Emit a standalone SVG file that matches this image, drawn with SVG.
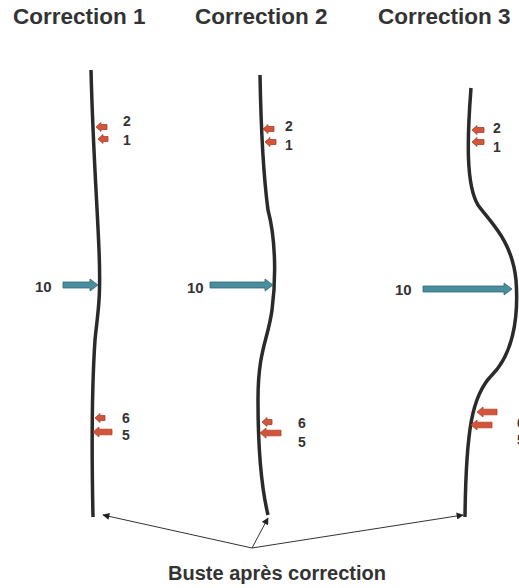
<svg xmlns="http://www.w3.org/2000/svg" width="519" height="588" viewBox="0 0 519 588">
<defs>
<marker id="ah" viewBox="0 0 10 10" refX="9" refY="5" markerWidth="9" markerHeight="7" markerUnits="userSpaceOnUse" orient="auto">
<path d="M0,0 L10,5 L0,10 Z" fill="#222"/>
</marker>
</defs>
<style>
.title{font-family:"Liberation Sans",Arial,sans-serif;font-weight:bold;font-size:22.5px;fill:#333}
.num{font-family:"Liberation Sans",Arial,sans-serif;font-weight:bold;font-size:14px;fill:#333}
.big{font-family:"Liberation Sans",Arial,sans-serif;font-weight:bold;font-size:15px;fill:#333}
.cap{font-family:"Liberation Sans",Arial,sans-serif;font-weight:bold;font-size:20px;fill:#333}
.bust{fill:none;stroke:#2a2a2a;stroke-width:3.5;stroke-linecap:butt}
.red{fill:#d2553a;stroke:#b0402a;stroke-width:0.8}
.teal{fill:#4a8d9c;stroke:#2f6878;stroke-width:0.8}
.conn{fill:none;stroke:#333;stroke-width:1}
</style>
<rect width="519" height="588" fill="#fff"/>

<g id="correction1">
<text class="title" x="13" y="24">Correction 1</text>
<path class="bust" d="M91,70 C93,150 97,200 99,250 C101,300 98,310 95,340 C91,400 92,470 93,517"/>
<path class="red" transform="translate(96,127)" d="M0,0 L5,-4.5 L5,-2.5 L11,-2.5 L11,2.5 L5,2.5 L5,4.5 Z"/>
<path class="red" transform="translate(98,139)" d="M0,0 L5,-4.5 L5,-2.5 L10,-2.5 L10,2.5 L5,2.5 L5,4.5 Z"/>
<path class="red" transform="translate(95,418)" d="M0,0 L5,-4.5 L5,-2.5 L10,-2.5 L10,2.5 L5,2.5 L5,4.5 Z"/>
<path class="red" transform="translate(93,432)" d="M0,0 L6,-5 L6,-2.8 L19,-2.8 L19,2.8 L6,2.8 L6,5 Z"/>
<path class="teal" transform="translate(98,285)" d="M0,0 L-8,-6 L-8,-3 L-35,-3 L-35,3 L-8,3 L-8,6 Z"/>
<text class="num" x="123" y="126">2</text>
<text class="num" x="123" y="145">1</text>
<text class="num" x="122" y="423">6</text>
<text class="num" x="122" y="440">5</text>
<text class="big" x="35" y="292">10</text>
</g>

<g id="correction2">
<text class="title" x="195" y="24">Correction 2</text>
<path class="bust" d="M260,75 C261,130 264,180 268,210 C276,240 276,280 272,310 C268,340 258,350 258,400 C258,450 262,490 268,515"/>
<path class="red" transform="translate(263,129)" d="M0,0 L5,-4.5 L5,-2.5 L11,-2.5 L11,2.5 L5,2.5 L5,4.5 Z"/>
<path class="red" transform="translate(265,142)" d="M0,0 L5,-4.5 L5,-2.5 L11,-2.5 L11,2.5 L5,2.5 L5,4.5 Z"/>
<path class="red" transform="translate(262,422)" d="M0,0 L5,-4.5 L5,-2.5 L10,-2.5 L10,2.5 L5,2.5 L5,4.5 Z"/>
<path class="red" transform="translate(260,433)" d="M0,0 L6,-5 L6,-2.8 L21,-2.8 L21,2.8 L6,2.8 L6,5 Z"/>
<path class="teal" transform="translate(273,285)" d="M0,0 L-8,-6 L-8,-3 L-63,-3 L-63,3 L-8,3 L-8,6 Z"/>
<text class="num" x="285" y="131">2</text>
<text class="num" x="285" y="150">1</text>
<text class="num" x="298" y="428">6</text>
<text class="num" x="298" y="447">5</text>
<text class="big" x="187" y="293">10</text>
</g>

<g id="correction3">
<text class="title" x="378" y="24">Correction 3</text>
<path class="bust" d="M471,88 C467,140 466,185 478,205 C490,222 512,240 516,280 C519,320 512,355 492,375 C472,395 466,430 465,517"/>
<path class="red" transform="translate(472,130)" d="M0,0 L5,-4.5 L5,-2.5 L12,-2.5 L12,2.5 L5,2.5 L5,4.5 Z"/>
<path class="red" transform="translate(472,142)" d="M0,0 L5,-4.5 L5,-2.5 L12,-2.5 L12,2.5 L5,2.5 L5,4.5 Z"/>
<path class="red" transform="translate(477,412)" d="M0,0 L6,-5 L6,-2.8 L20,-2.8 L20,2.8 L6,2.8 L6,5 Z"/>
<path class="red" transform="translate(471,425)" d="M0,0 L6,-5 L6,-2.8 L21,-2.8 L21,2.8 L6,2.8 L6,5 Z"/>
<path class="teal" transform="translate(512,289)" d="M0,0 L-8,-6 L-8,-3 L-89,-3 L-89,3 L-8,3 L-8,6 Z"/>
<text class="num" x="493" y="133">2</text>
<text class="num" x="493" y="152">1</text>
<text class="num" x="517" y="428">6</text>
<text class="num" x="517" y="445">5</text>
<text class="big" x="395" y="295">10</text>
</g>

<g id="connectors">
<line class="conn" x1="252" y1="548" x2="103" y2="515" marker-end="url(#ah)"/>
<line class="conn" x1="252" y1="548" x2="268" y2="518" marker-end="url(#ah)"/>
<line class="conn" x1="252" y1="548" x2="463" y2="515" marker-end="url(#ah)"/>
</g>

<g id="caption">
<text class="cap" x="277" y="580" text-anchor="middle">Buste après correction</text>
</g>
</svg>
